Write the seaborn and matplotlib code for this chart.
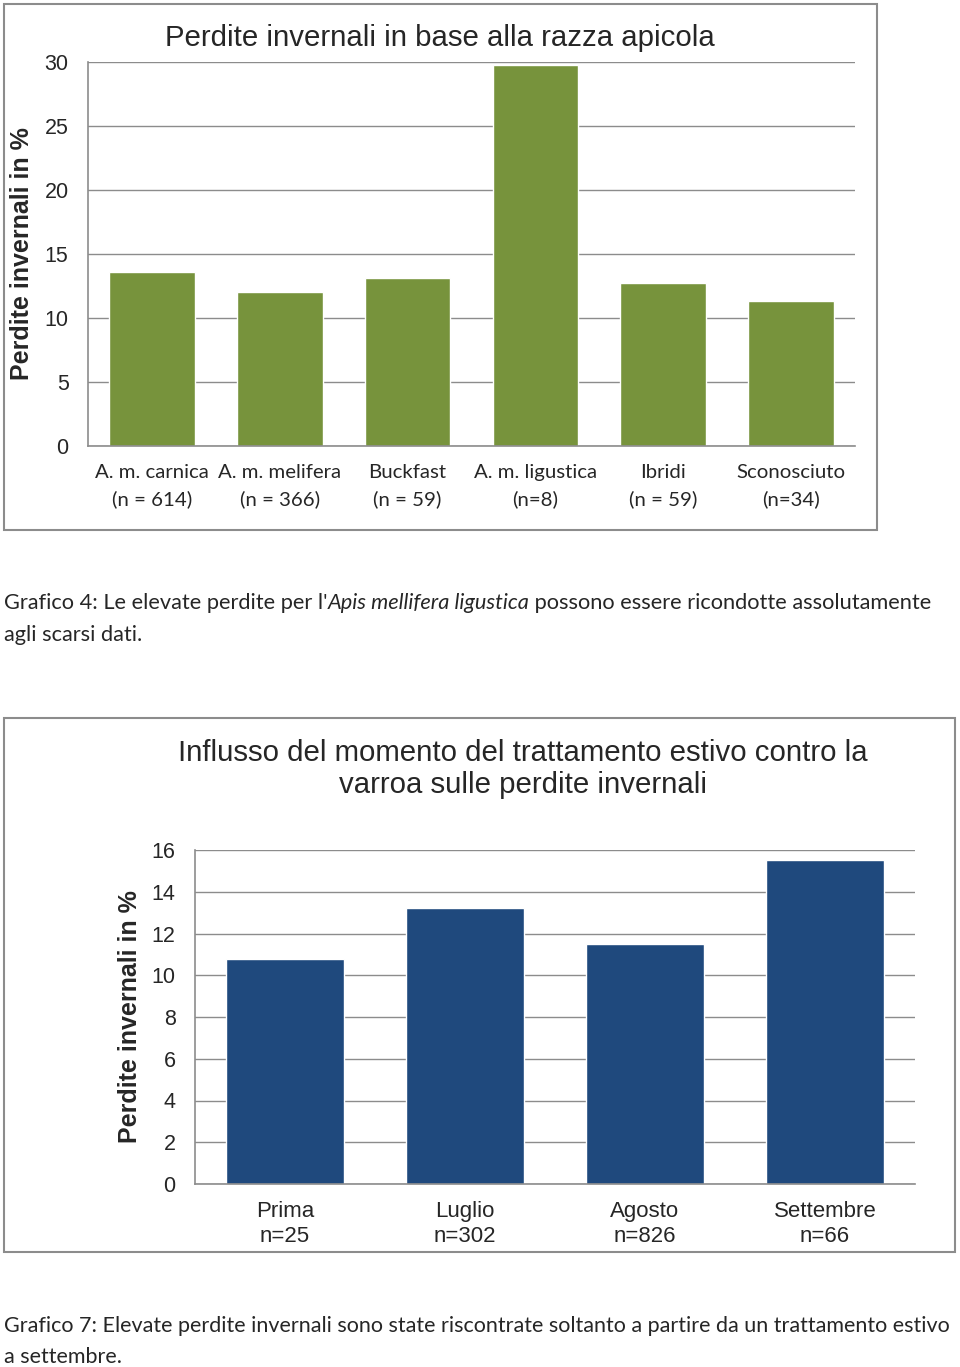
import matplotlib
matplotlib.use("Agg")
import matplotlib.pyplot as plt
import seaborn as sns
import pandas as pd
from matplotlib.patches import Rectangle

# Data
razze = ["A. m. carnica\n(n = 614)", "A. m. melifera\n(n = 366)", "Buckfast\n(n = 59)",
         "A. m. ligustica\n(n=8)", "Ibridi\n(n = 59)", "Sconosciuto\n(n=34)"]
perdite_razza = [13.6, 12.0, 13.1, 29.8, 12.7, 11.3]

mesi = ["Prima\nn=25", "Luglio\nn=302", "Agosto\nn=826", "Settembre\nn=66"]
perdite_mese = [10.8, 13.2, 11.5, 15.5]

sns.set_style("white")
plt.rcParams["font.family"] = ["Liberation Sans", "DejaVu Sans"]

W, H = 960, 1367
fig = plt.figure(figsize=(W / 100, H / 100), dpi=100)

def px_axes(l, t, r, b):
    return fig.add_axes([l / W, 1 - b / H, (r - l) / W, (b - t) / H])

def box(l, t, r, b):
    fig.patches.append(Rectangle((l / W, 1 - b / H), (r - l) / W, (b - t) / H,
                                 transform=fig.transFigure, fill=False,
                                 edgecolor="#8c8c8c", linewidth=1.5))

def style_ax(ax):
    sns.despine(ax=ax, top=True, right=True)
    for s in ["left", "bottom"]:
        ax.spines[s].set_color("#8c8c8c")
        ax.spines[s].set_linewidth(1.2)
    ax.yaxis.grid(True, color="#8c8c8c", linewidth=1.0)
    ax.set_axisbelow(True)
    ax.tick_params(axis="both", length=0)
    ax.set_xlabel("")

# ---- Grafico 4
box(4, 4, 877, 530)
ax1 = px_axes(88, 62, 855, 446)
df1 = pd.DataFrame({"razza": razze, "perdite": perdite_razza})
sns.barplot(data=df1, x="razza", y="perdite", color="#77933C", saturation=1,
            width=0.67, ax=ax1)
style_ax(ax1)
ax1.set_ylim(0, 30)
ax1.set_yticks(range(0, 31, 5))
ax1.tick_params(axis="y", labelsize=15.5, pad=14)
ax1.tick_params(axis="x", pad=13)
for lab in ax1.get_xticklabels():
    lab.set_fontfamily(["Lato", "DejaVu Sans"])
    lab.set_fontsize(14.7)
    lab.set_linespacing(1.6)
ax1.set_ylabel("Perdite invernali in %", fontsize=18, fontweight="bold")
ax1.yaxis.set_label_coords(-0.071, 0.5)
fig.text(440 / W, 1 - 38 / H, "Perdite invernali in base alla razza apicola",
         fontsize=21.2, ha="center", va="center")

# ---- Grafico 7
box(4, 718, 955, 1252)
ax2 = px_axes(195, 850, 915, 1184)
df2 = pd.DataFrame({"mese": mesi, "perdite": perdite_mese})
sns.barplot(data=df2, x="mese", y="perdite", color="#1F497D", saturation=1,
            width=0.66, ax=ax2)
style_ax(ax2)
ax2.set_ylim(0, 16)
ax2.set_yticks(range(0, 17, 2))
ax2.tick_params(axis="y", labelsize=15.5, pad=14)
ax2.tick_params(axis="x", labelsize=16, pad=12)
for lab in ax2.get_xticklabels():
    lab.set_linespacing(1.3)
ax2.set_ylabel("Perdite invernali in %", fontsize=18, fontweight="bold")
ax2.yaxis.set_label_coords(-0.074, 0.5)
fig.text(523 / W, 1 - 769 / H,
         "Influsso del momento del trattamento estivo contro la\nvarroa sulle perdite invernali",
         fontsize=21.2, ha="center", va="center", linespacing=1.22)

# ---- Didascalie
cap_font = ["Lato", "DejaVu Sans"]
renderer = fig.canvas.get_renderer()

def caption_line(x, y, pieces, size):
    for txt, style in pieces:
        t = fig.text(x / W, 1 - y / H, txt, fontsize=size, family=cap_font,
                     style=style, ha="left", va="center")
        x = t.get_window_extent(renderer).x1

caption_line(4, 603, [("Grafico 4: Le elevate perdite per l'", "normal"),
                      ("Apis mellifera ligustica", "italic"),
                      (" possono essere ricondotte assolutamente", "normal")], 15.7)
caption_line(4, 635, [("agli scarsi dati.", "normal")], 15.7)
caption_line(4, 1326, [("Grafico 7: Elevate perdite invernali sono state riscontrate soltanto a partire da un trattamento estivo", "normal")], 15.5)
caption_line(4, 1357, [("a settembre.", "normal")], 15.5)

fig.savefig("out.png", dpi=100, facecolor="white")
